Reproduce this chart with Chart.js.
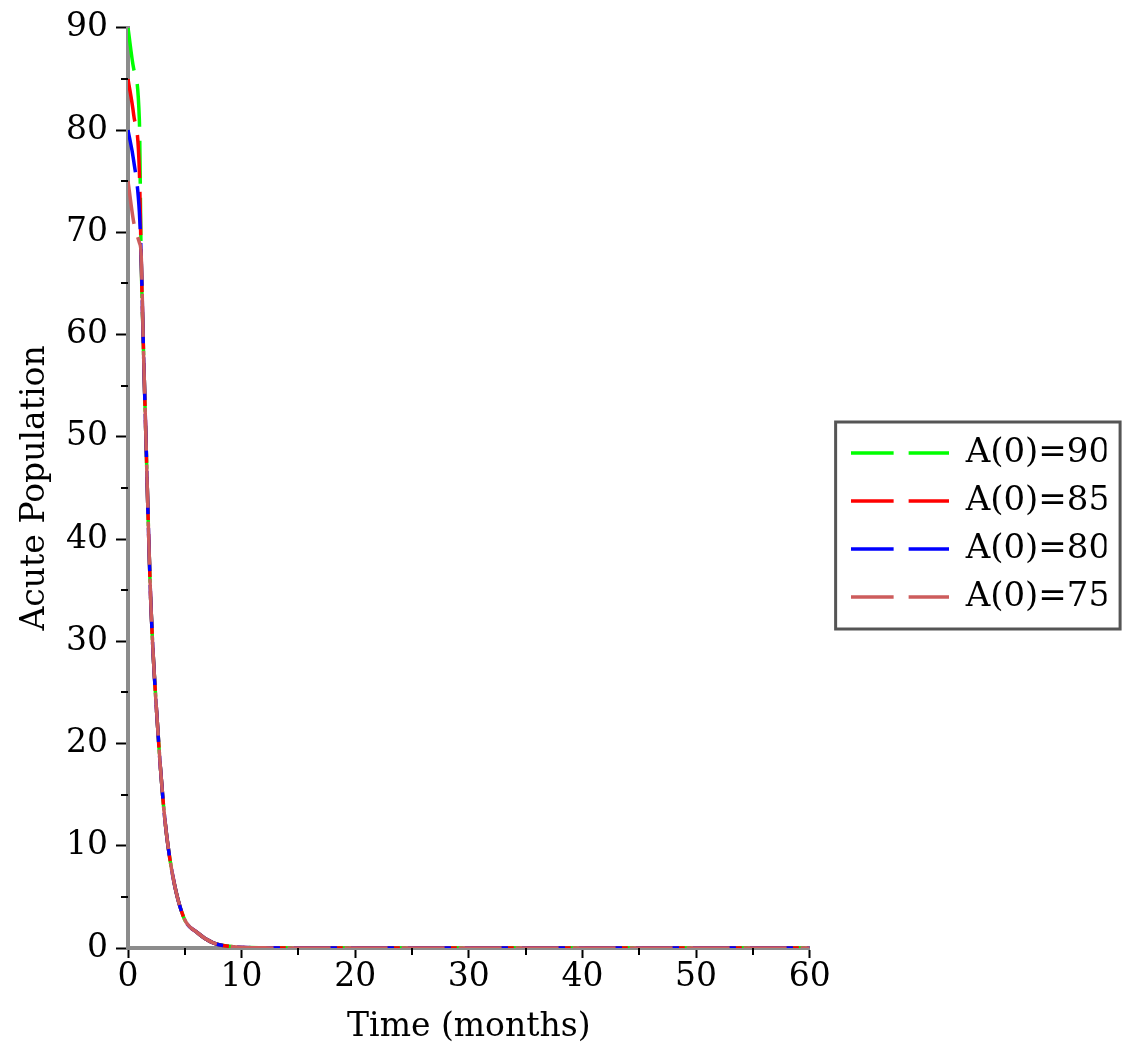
<!DOCTYPE html>
<html lang="en">
<head>
  <meta charset="UTF-8">
  <title>Acute Population</title>
  <script src="https://cdn.jsdelivr.net/npm/chart.js"></script>
  <style>
    body { margin: 0; background: #fff; }
    .wrap { width: 1125px; height: 1062px; position: relative; }
  </style>
</head>
<body>
<div class="wrap"><canvas id="chart"></canvas></div>
<script>
// time in months
const months = [0, 0.5, 1.0, 1.15, 1.35, 1.6, 1.8, 2.0, 2.25, 2.55, 2.85, 3.25, 3.9, 4.9, 6.1, 7.5, 9.6, 12, 16, 20, 30, 40, 50, 60];
const a90 = [90, 86, 81, 68, 59, 49, 41, 34, 28, 22.6, 17.7, 12.5, 7.3, 3.0, 1.5, 0.5, 0.1, 0.02, 0, 0, 0, 0, 0, 0];
const a85 = [85, 81.5, 76, 68, 59, 49, 41, 34, 28, 22.6, 17.7, 12.5, 7.3, 3.0, 1.5, 0.5, 0.1, 0.02, 0, 0, 0, 0, 0, 0];
const a80 = [80, 77, 72, 68, 59, 49, 41, 34, 28, 22.6, 17.7, 12.5, 7.3, 3.0, 1.5, 0.5, 0.1, 0.02, 0, 0, 0, 0, 0, 0];
const a75 = [75, 71, 69, 68, 59, 49, 41, 34, 28, 22.6, 17.7, 12.5, 7.3, 3.0, 1.5, 0.5, 0.1, 0.02, 0, 0, 0, 0, 0, 0];
const seriesNames = ["A(0)=90", "A(0)=85", "A(0)=80", "A(0)=75"];
const xMinorTicks = [5, 15, 25, 35, 45, 55];
const yMinorTicks = [5, 15, 25, 35, 45, 55, 65, 75, 85];

Chart.defaults.font.family = "'DejaVu Serif', serif";
Chart.defaults.font.size = 33;
Chart.defaults.color = "#000";

function pts(vals) {
  return months.map((m, i) => ({ x: m, y: vals[i] }));
}

// two-dash sample used as the legend symbol
function dashSample(color) {
  const c = document.createElement("canvas");
  c.width = 98; c.height = 6;
  const g = c.getContext("2d");
  g.strokeStyle = color;
  g.lineWidth = 3.5;
  g.beginPath();
  g.moveTo(0, 3); g.lineTo(43, 3);
  g.moveTo(58, 3); g.lineTo(98, 3);
  g.stroke();
  return c;
}

function line(label, vals, color, order) {
  return {
    label: label,
    data: pts(vals),
    borderColor: color,
    backgroundColor: color,
    borderWidth: 3.5,
    borderDash: [43, 14],
    pointRadius: 0,
    fill: false,
    cubicInterpolationMode: "monotone",
    order: order
  };
}

const extras = {
  id: "extras",
  afterLayout(chart) {
    // legend sits a little right of the plot and a bit above canvas middle
    const lg = chart.legend;
    const dx = chart.chartArea.right + 27 - lg.left;
    lg.left += dx; lg.right += dx;
    const dy = 525 - (lg.top + lg.bottom) / 2;
    lg.top += dy; lg.bottom += dy;
  },
  afterDraw(chart) {
    const ctx = chart.ctx;
    const area = chart.chartArea;
    const sx = chart.scales.x, sy = chart.scales.y;
    ctx.save();
    ctx.strokeStyle = "#000";
    ctx.lineWidth = 2;
    ctx.beginPath();
    yMinorTicks.forEach(v => {
      const p = Math.round(sy.getPixelForValue(v));
      ctx.moveTo(area.left - 7, p); ctx.lineTo(area.left, p);
    });
    xMinorTicks.forEach(v => {
      const p = Math.round(sx.getPixelForValue(v));
      ctx.moveTo(p, area.bottom); ctx.lineTo(p, area.bottom + 7);
    });
    ctx.stroke();

    // frame round the legend
    const boxes = chart.legend.legendHitBoxes;
    let l = Infinity, t = Infinity, r = -Infinity, b = -Infinity;
    boxes.forEach(h => {
      l = Math.min(l, h.left); t = Math.min(t, h.top);
      r = Math.max(r, h.left + h.width); b = Math.max(b, h.top + h.height);
    });
    ctx.strokeStyle = "#555";
    ctx.lineWidth = 3;
    ctx.strokeRect(l - 15, t - 14, r - l + 25, b - t + 29);
    ctx.restore();
  }
};

new Chart(document.getElementById("chart"), {
  type: "line",
  data: {
    datasets: [
      line(seriesNames[0], a90, "#00ff00", 4),
      line(seriesNames[1], a85, "#ff0000", 3),
      line(seriesNames[2], a80, "#0000ff", 2),
      line(seriesNames[3], a75, "#cd5c5c", 1)
    ]
  },
  options: {
    responsive: true,
    maintainAspectRatio: false,
    animation: false,
    layout: { padding: { top: 24, right: 45.5, bottom: 15, left: 0 } },
    plugins: {
      tooltip: { enabled: false },
      legend: {
        position: "right",
        labels: {
          usePointStyle: true,
          pointStyleWidth: 98,
          padding: 14,
          font: { size: 34 },
          sort: (a, b) => a.datasetIndex - b.datasetIndex,
          generateLabels(chart) {
            const items = Chart.defaults.plugins.legend.labels.generateLabels(chart);
            items.forEach(it => { it.pointStyle = dashSample(it.strokeStyle); });
            return items;
          }
        }
      }
    },
    scales: {
      x: {
        type: "linear",
        min: 0, max: 60,
        afterFit(s) { s.height = 99; },
        ticks: { stepSize: 10, padding: 0, maxRotation: 0 },
        grid: { drawOnChartArea: false, tickLength: 10, tickColor: "#000", tickWidth: 2 },
        border: { color: "#8c8c8c", width: 4 },
        title: { display: true, text: "Time (months)", padding: { top: 0, bottom: 0 } }
      },
      y: {
        min: 0, max: 90,
        afterFit(s) { s.width = 128; },
        ticks: { stepSize: 10, padding: 8 },
        grid: { drawOnChartArea: false, tickLength: 12, tickColor: "#000", tickWidth: 2 },
        border: { color: "#8c8c8c", width: 4 },
        title: { display: true, text: "Acute Population", padding: { top: 16, bottom: 0 } }
      }
    }
  },
  plugins: [extras]
});
</script>
</body>
</html>
